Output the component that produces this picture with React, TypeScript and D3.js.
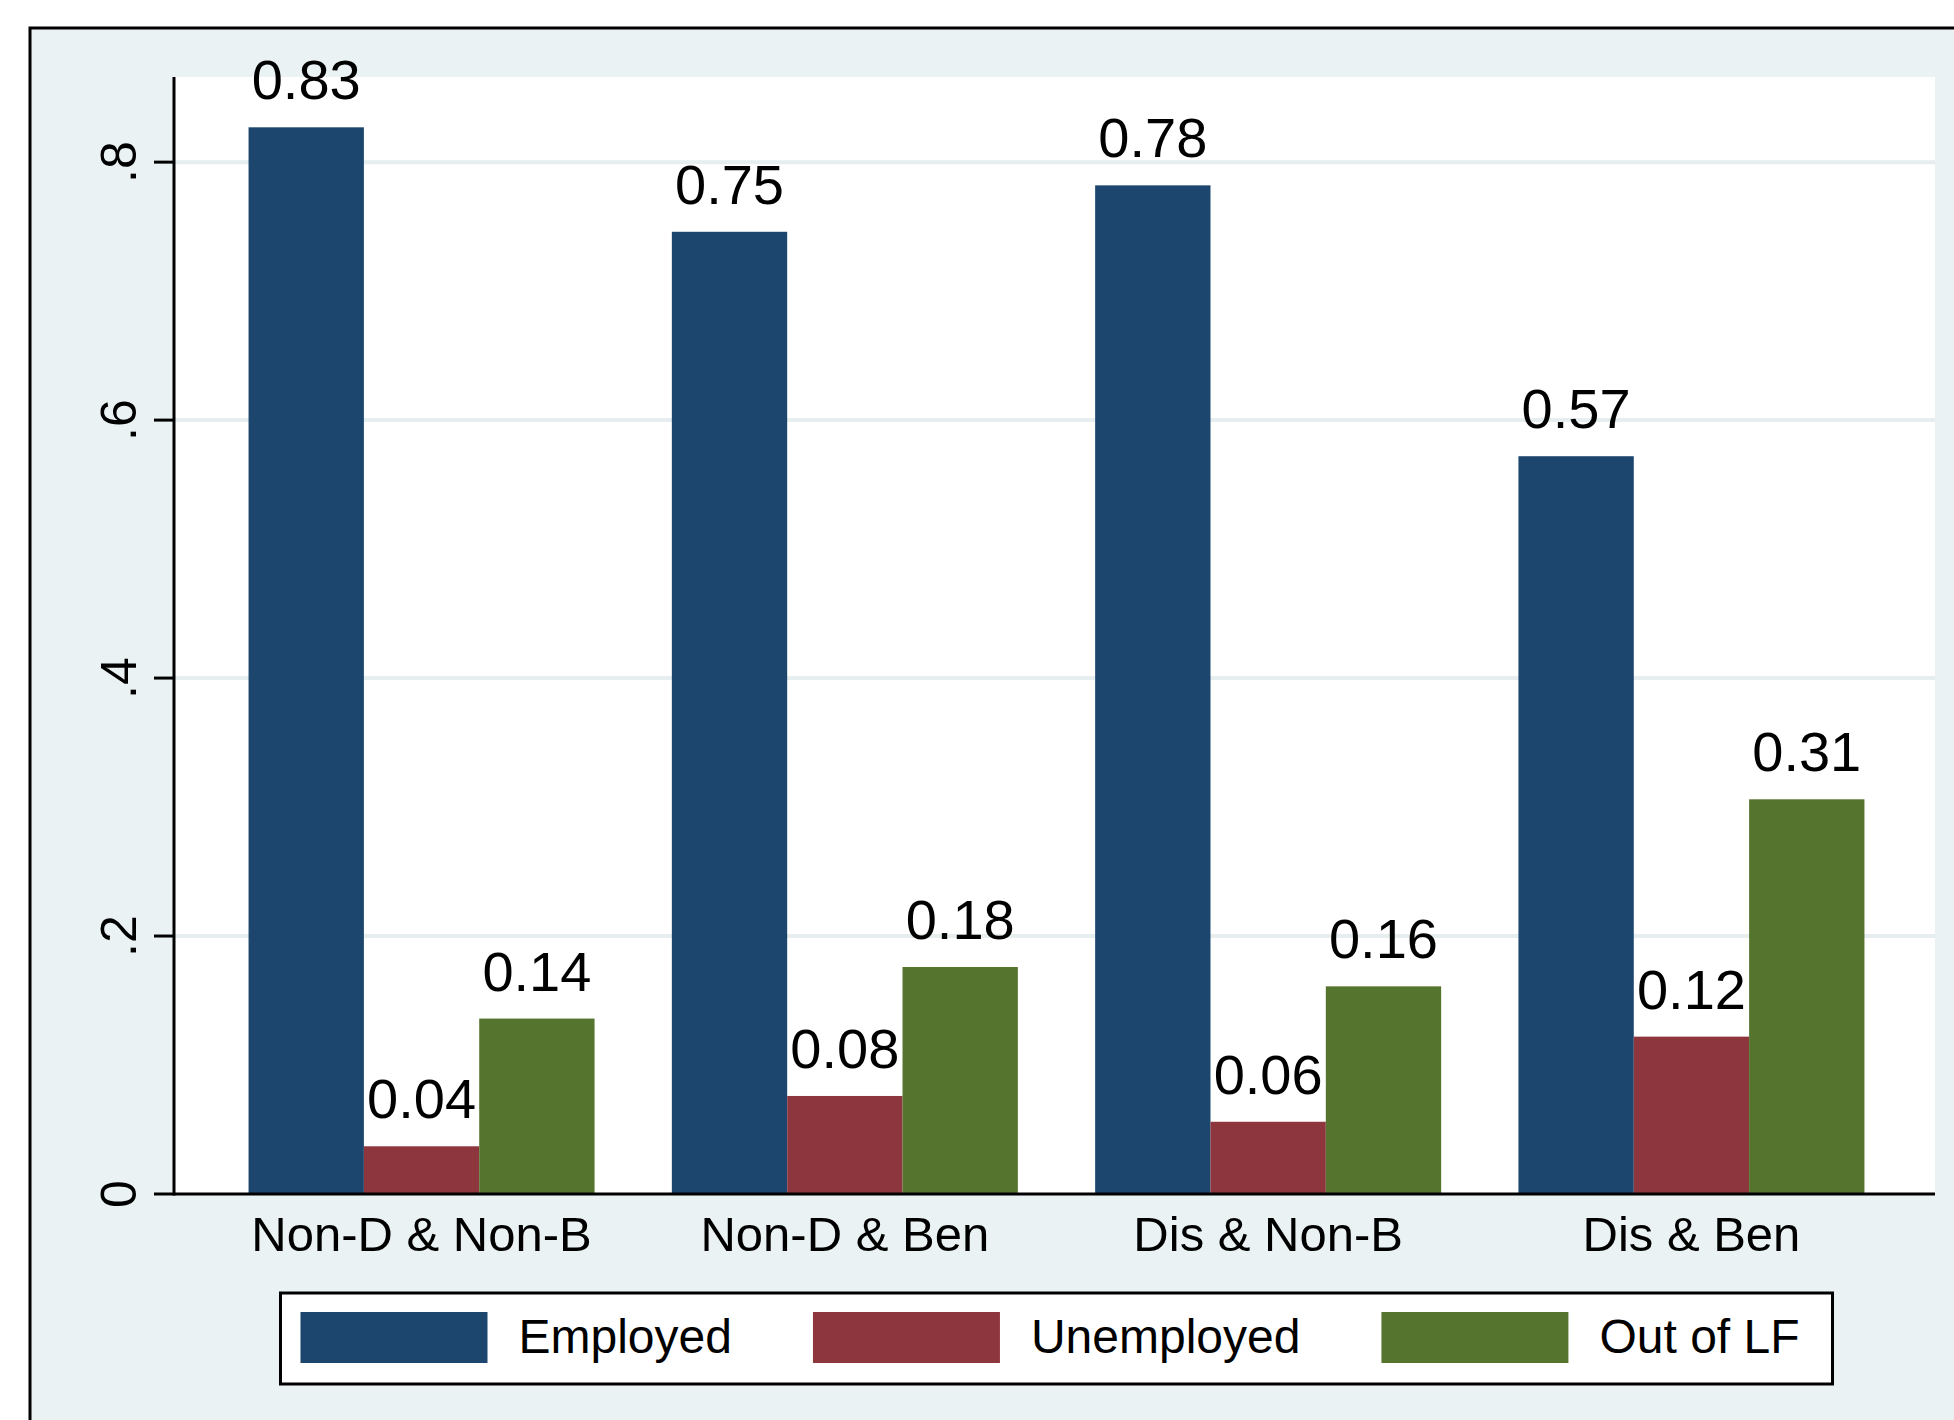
import React from "react";
import * as d3 from "d3";

const categories = ["Non-D & Non-B", "Non-D & Ben", "Dis & Non-B", "Dis & Ben"];
const seriesNames = ["Employed", "Unemployed", "Out of LF"];
const employed = [0.827, 0.746, 0.782, 0.572];
const unemployed = [0.037, 0.076, 0.056, 0.122];
const outOfLF = [0.136, 0.176, 0.161, 0.306];
const yTicks = [0, 0.2, 0.4, 0.6, 0.8];
const colors = ["#1C466E", "#8E363D", "#55752F"];

const W = 1954;
const H = 1420;
const FONT = "'Liberation Sans', Arial, sans-serif";

function measure(text: string, size: number): number {
  if (typeof document === "undefined") return text.length * size * 0.55;
  const c = document.createElement("canvas");
  const ctx = c.getContext("2d");
  if (!ctx) return text.length * size * 0.55;
  ctx.font = `${size}px 'Liberation Sans', Arial, sans-serif`;
  return ctx.measureText(text).width;
}

export default function App() {
  const plot = { left: 174, right: 1935, top: 77, bottom: 1194 };
  const seriesValues = [employed, unemployed, outOfLF];

  const x0 = d3
    .scaleBand<string>()
    .domain(categories)
    .range([plot.left + 2, plot.right + 2])
    .paddingInner(0.1826)
    .paddingOuter(0.1714);
  const x1 = d3
    .scaleBand<string>()
    .domain(seriesNames)
    .range([0, x0.bandwidth()])
    .padding(0);
  const y = d3.scaleLinear().domain([0, 0.866]).range([plot.bottom, plot.top]);

  const fmtVal = d3.format(".2f");
  const fmtTick = (v: number) => (v === 0 ? "0" : d3.format(".1f")(v).replace(/^0/, ""));

  // Legend layout
  const legFont = 48;
  const sw = 187;
  const swH = 51;
  const padL = 20;
  const gapKT = 31;
  const gapItem = 81;
  const padR = 33;
  const widths = seriesNames.map((s) => measure(s, legFont));
  const legendW =
    padL + padR + seriesNames.length * (sw + gapKT) + widths.reduce((a, b) => a + b, 0) + gapItem * (seriesNames.length - 1);
  const legCenter = (plot.left + plot.right) / 2 + 2;
  const legLeft = legCenter - legendW / 2;
  const legTop = 1293;
  const legH = 91;
  const items: { x: number; tx: number; name: string; color: string }[] = [];
  let cx = legLeft + padL;
  seriesNames.forEach((s, i) => {
    items.push({ x: cx, tx: cx + sw + gapKT, name: s, color: colors[i] });
    cx += sw + gapKT + widths[i] + gapItem;
  });

  return (
    <div style={{ position: "absolute", left: 0, top: 0 }}>
      <svg width={W} height={H} style={{ display: "block" }} fontFamily={FONT}>
        <rect x={0} y={0} width={W} height={H} fill="#ffffff" />
        {/* graph region */}
        <rect x={30} y={28} width={W + 100} height={H + 100} fill="#EAF2F3" stroke="#000" strokeWidth={3} />
        {/* plot region */}
        <rect x={plot.left} y={plot.top} width={plot.right - plot.left} height={plot.bottom - plot.top} fill="#ffffff" />
        {/* gridlines */}
        {yTicks
          .filter((t) => t > 0)
          .map((t) => (
            <line key={"g" + t} x1={plot.left} x2={plot.right} y1={y(t)} y2={y(t)} stroke="#E6EEF0" strokeWidth={4} />
          ))}
        {/* bars */}
        {categories.map((c, ci) => (
          <g key={c} transform={`translate(${x0(c)},0)`}>
            {seriesNames.map((s, si) => {
              const v = seriesValues[si][ci];
              return (
                <rect
                  key={s}
                  x={x1(s)}
                  y={y(v)}
                  width={x1.bandwidth()}
                  height={y(0) - y(v)}
                  fill={colors[si]}
                />
              );
            })}
          </g>
        ))}
        {/* value labels */}
        {categories.map((c, ci) => (
          <g key={"l" + c} transform={`translate(${x0(c)},0)`}>
            {seriesNames.map((s, si) => {
              const v = seriesValues[si][ci];
              return (
                <text
                  key={s}
                  x={(x1(s) as number) + x1.bandwidth() / 2}
                  y={y(v) - 28}
                  textAnchor="middle"
                  fontSize={56}
                  fill="#000"
                >
                  {fmtVal(v)}
                </text>
              );
            })}
          </g>
        ))}
        {/* y axis */}
        <line x1={plot.left} x2={plot.left} y1={plot.top} y2={plot.bottom + 1.5} stroke="#000" strokeWidth={3} />
        {yTicks.map((t) => (
          <g key={"t" + t}>
            <line x1={plot.left - 20} x2={plot.left} y1={y(t)} y2={y(t)} stroke="#000" strokeWidth={3} />
            <text
              transform={`translate(${plot.left - 38},${y(t)}) rotate(-90)`}
              textAnchor="middle"
              fontSize={50}
              fill="#000"
            >
              {fmtTick(t)}
            </text>
          </g>
        ))}
        {/* x axis */}
        <line x1={plot.left} x2={plot.right} y1={plot.bottom} y2={plot.bottom} stroke="#000" strokeWidth={3} />
        {categories.map((c) => (
          <text
            key={"c" + c}
            x={(x0(c) as number) + x0.bandwidth() / 2}
            y={1251}
            textAnchor="middle"
            fontSize={49}
            fill="#000"
          >
            {c}
          </text>
        ))}
        {/* legend */}
        <rect x={legLeft} y={legTop} width={legendW} height={legH} fill="#ffffff" stroke="#000" strokeWidth={3} />
        {items.map((it) => (
          <g key={"lg" + it.name}>
            <rect x={it.x} y={legTop + 19} width={sw} height={swH} fill={it.color} />
            <text x={it.tx} y={legTop + 60} fontSize={legFont} fill="#000">
              {it.name}
            </text>
          </g>
        ))}
      </svg>
    </div>
  );
}
